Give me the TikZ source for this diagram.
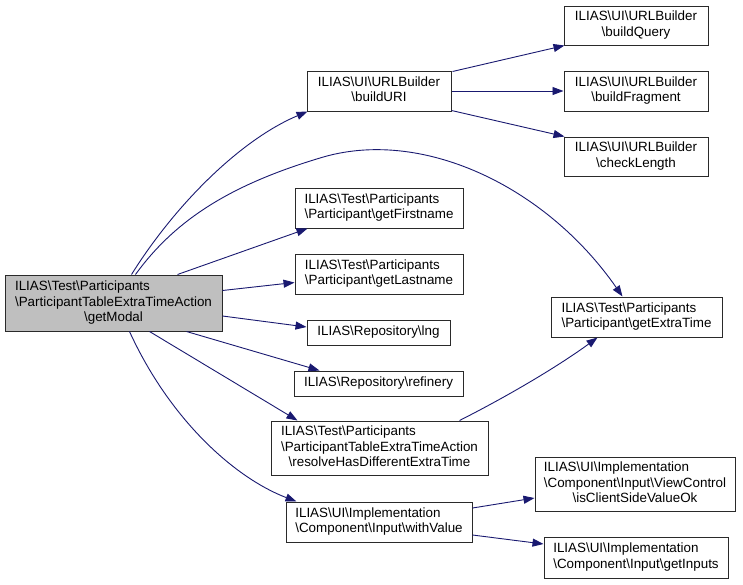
\documentclass[tikz,border=0pt]{standalone}
\usepackage{fontspec}
\setmainfont{Liberation Sans}
\usetikzlibrary{arrows.meta,calc}
\definecolor{edgeblue}{HTML}{191970}
\definecolor{maingray}{HTML}{BFBFBF}
\definecolor{boxline}{HTML}{2A2A2A}
\newcommand{\bs}{\textbackslash}
\newcommand{\lab}[2]{\begin{tabular}{@{}l@{}}#1\\\multicolumn{1}{@{}c@{}}{#2}\end{tabular}}
\newcommand{\fnbox}[7][]{\node[fnbox,minimum width={#5pt-#3pt},minimum height={#6pt-#4pt},#1] (#2) at ({(#3+#5)/2},{(#4+#6)/2}) {#7};}
\tikzset{
  fnbox/.style={draw=boxline,line width=1pt,fill=white,inner sep=0pt,font=\fontsize{13.4}{15.5}\selectfont,align=center},
  call/.style={draw=edgeblue,line width=0.9pt,-{Triangle[length=11pt,width=8pt]}},
}
\begin{document}
\begin{tikzpicture}[x=1pt,y=-1pt]
\useasboundingbox (0,0) rectangle (743,584);
\fnbox[fill=maingray]{main}{5}{275}{222}{331}{\lab{ILIAS\bs Test\bs Participants\\\bs ParticipantTableExtraTimeAction}{\bs getModal}}
\fnbox{buildURI}{307}{71}{451}{111}{\lab{ILIAS\bs UI\bs URLBuilder}{\bs buildURI}}
\fnbox{buildQuery}{564}{6}{708}{45}{\lab{ILIAS\bs UI\bs URLBuilder}{\bs buildQuery}}
\fnbox{buildFragment}{564}{71}{708}{111}{\lab{ILIAS\bs UI\bs URLBuilder}{\bs buildFragment}}
\fnbox{checkLength}{564}{137}{708}{176}{\lab{ILIAS\bs UI\bs URLBuilder}{\bs checkLength}}
\fnbox{first}{295}{188}{463}{228}{\lab{ILIAS\bs Test\bs Participants}{\bs Participant\bs getFirstname}}
\fnbox{last}{295}{254}{463}{294}{\lab{ILIAS\bs Test\bs Participants}{\bs Participant\bs getLastname}}
\fnbox{lng}{307}{320}{450}{345}{ILIAS\bs Repository\bs lng}
\fnbox{refinery}{294}{371}{463}{396}{ILIAS\bs Repository\bs refinery}
\fnbox{extra}{551}{297}{722}{337}{\lab{ILIAS\bs Test\bs Participants}{\bs Participant\bs getExtraTime}}
\fnbox{resolve}{271}{421}{488}{475}{\lab{ILIAS\bs Test\bs Participants\\\bs ParticipantTableExtraTimeAction}{\bs resolveHasDifferentExtraTime}}
\fnbox{withValue}{286}{502}{472}{542}{\lab{ILIAS\bs UI\bs Implementation}{\bs Component\bs Input\bs withValue}}
\fnbox{isClient}{535}{457}{735}{511}{\lab{ILIAS\bs UI\bs Implementation\\\bs Component\bs Input\bs ViewControl}{\bs isClientSideValueOk}}
\fnbox{getInputs}{544}{537}{728}{578}{\lab{ILIAS\bs UI\bs Implementation}{\bs Component\bs Input\bs getInputs}}
\coordinate (via) at (320,158);
% connectors
\draw[call] ($(main.north west)+(127,0)$) .. controls (175,205) and (240,140) .. ($(buildURI.south west)+(1,0)$);
\draw[call] ($(main.north west)+(131,0)$) .. controls (175,220) and (230,185) .. (via) .. controls (420,127) and (545,185) .. ($(extra.north west)+(72,0)$);
\draw[call] ($(main.north west)+(173,0)$) -- ($(first.south west)+(13,0)$);
\draw[call] ($(main.north east)+(0,16)$) -- ($(last.south west)+(0,-12)$);
\draw[call] ($(main.east)+(0,13)$) -- ($(lng.west)+(0,-5.5)$);
\draw[call] ($(main.south west)+(182,0)$) -- ($(refinery.north west)+(26,0)$);
\draw[call] ($(main.south west)+(145,0)$) -- ($(resolve.north west)+(27,0)$);
\draw[call] ($(main.south west)+(125,0)$) .. controls (170,420) and (235,478) .. ($(withValue.north west)+(11,0)$);
\draw[call] ($(resolve.north west)+(189,0)$) .. controls (510,395) and (560,365) .. ($(extra.south west)+(47,0)$);
\draw[call] ($(buildURI.north east)+(1,1)$) -- ($(buildQuery.south west)+(1,0)$);
\draw[call] (buildURI.east) -- (buildFragment.west);
\draw[call] ($(buildURI.south east)+(0,-1)$) -- ($(checkLength.north west)+(1,0)$);
\draw[call] ($(withValue.east)+(0,-14)$) -- ($(isClient.west)+(0,14)$);
\draw[call] ($(withValue.east)+(0,13)$) -- ($(getInputs.west)+(0,-13.5)$);
\end{tikzpicture}
\end{document}
